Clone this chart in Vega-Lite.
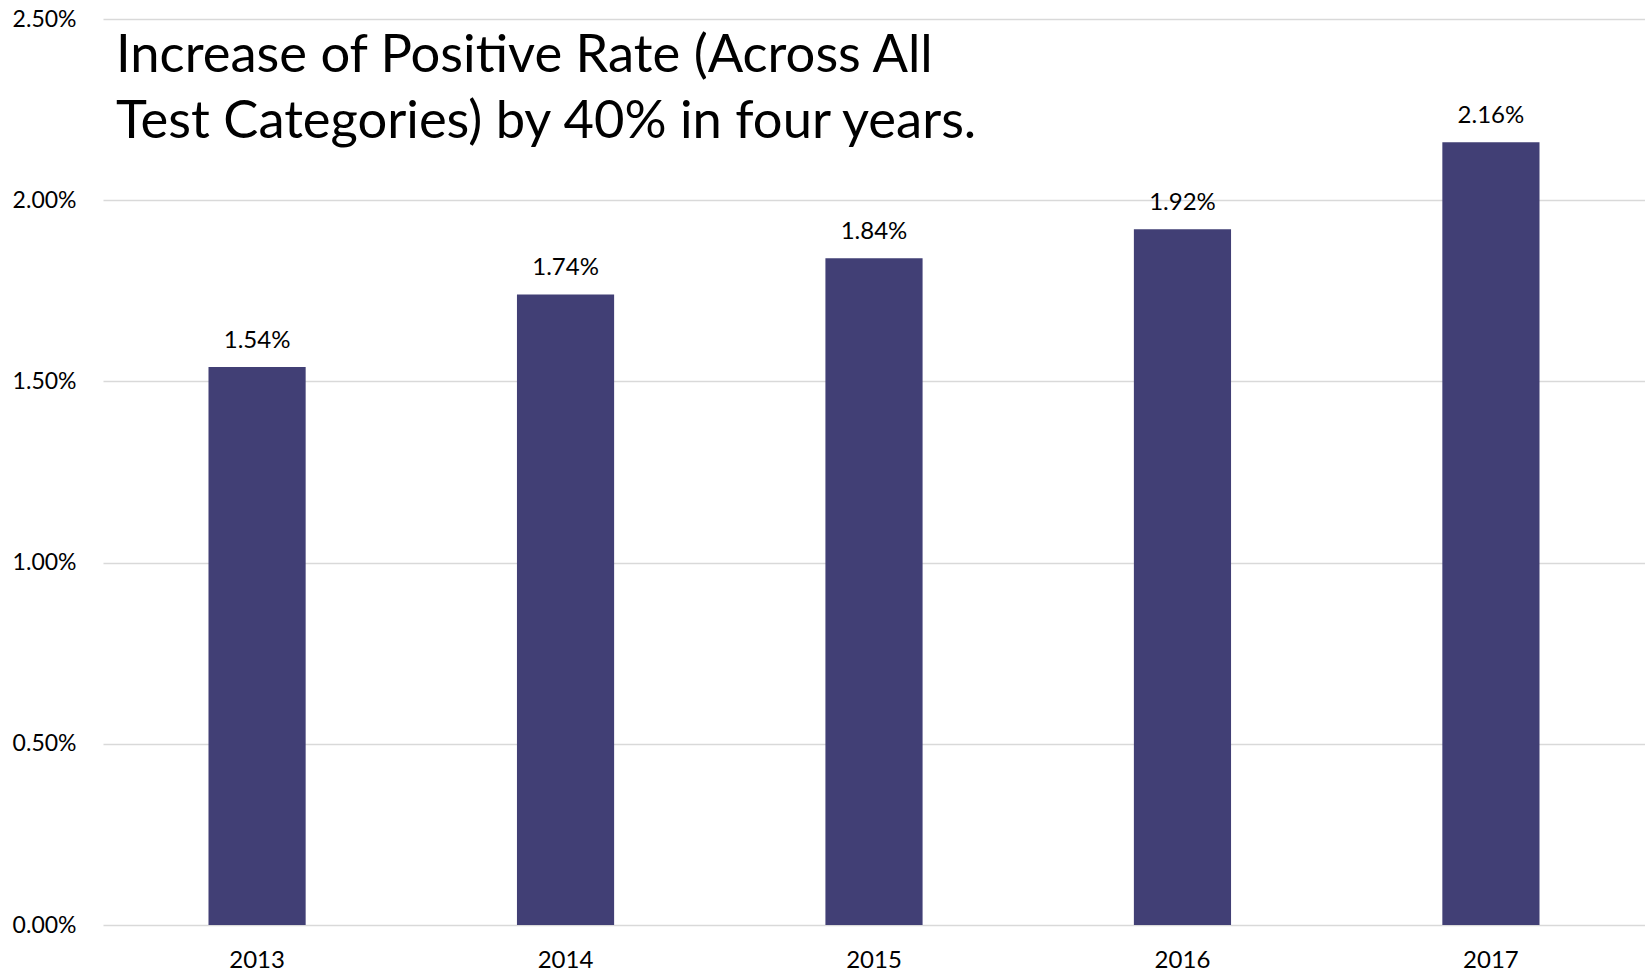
{
  "$schema": "https://vega.github.io/schema/vega-lite/v6.json",
  "autosize": {"type": "none"},
  "padding": {"left": 103, "top": 19, "right": 0, "bottom": 51},
  "width": 1542,
  "height": 906,
  "background": "white",
  "title": {
    "text": ["Increase of Positive Rate (Across All", "Test Categories) by 40% in four years."],
    "anchor": "start",
    "frame": "group",
    "orient": "top",
    "offset": 0,
    "dx": 13,
    "dy": 141,
    "font": "Lato",
    "fontSize": 52.5,
    "fontWeight": "normal",
    "lineHeight": 66,
    "color": "#000000"
  },
  "data": {
    "values": [
      {"year": "2013", "rate": 0.0154},
      {"year": "2014", "rate": 0.0174},
      {"year": "2015", "rate": 0.0184},
      {"year": "2016", "rate": 0.0192},
      {"year": "2017", "rate": 0.0216}
    ]
  },
  "config": {
    "view": {"stroke": null},
    "font": "Lato"
  },
  "encoding": {
    "x": {
      "field": "year",
      "type": "ordinal",
      "scale": {"paddingInner": 0.685, "paddingOuter": 0.342},
      "axis": {
        "title": null,
        "labelAngle": 0,
        "labelFont": "Lato",
        "labelFontSize": 24,
        "labelColor": "#000000",
        "labelPadding": 23,
        "ticks": false,
        "domain": false,
        "grid": false
      }
    },
    "y": {
      "field": "rate",
      "type": "quantitative",
      "scale": {"domain": [0, 0.025], "nice": false},
      "axis": {
        "title": null,
        "format": ".2%",
        "values": [0, 0.005, 0.01, 0.015, 0.02, 0.025],
        "labelFont": "Lato",
        "labelFontSize": 23,
        "labelColor": "#000000",
        "labelPadding": 27,
        "ticks": false,
        "domain": false,
        "grid": true,
        "gridColor": "#d9d9d9",
        "gridWidth": 1.5
      }
    }
  },
  "layer": [
    {"mark": {"type": "bar", "color": "#413F75"}},
    {
      "mark": {"type": "text", "baseline": "alphabetic", "dy": -19, "font": "Lato", "fontSize": 24, "color": "#000000"},
      "encoding": {"text": {"field": "rate", "type": "quantitative", "format": ".2%"}}
    }
  ]
}
